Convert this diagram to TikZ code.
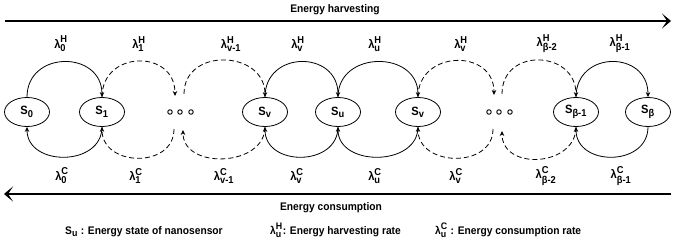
\documentclass[tikz,border=0pt]{standalone}
\usepackage{amsmath}
\usepackage{fontspec}
\setmainfont{Liberation Sans}[FakeStretch=0.93]
\usetikzlibrary{arrows.meta,shapes.geometric}
\DeclareMathSizes{11}{11}{9.5}{7}
\DeclareMathSizes{12}{12}{10}{8}
\newcommand\mylam[2]{$\text{λ}^{\text{#1}}_{\text{#2}}$}
\newcommand\mystate[1]{$\text{S}_{\text{#1}}$}
\begin{document}
\begin{tikzpicture}[x=1pt,y=-1pt,
  every node/.style={font=\fontsize{11}{13}\selectfont\bfseries},
  big12/.style={font=\fontsize{12}{14}\selectfont\bfseries},
  st/.style={ellipse,draw,line width=0.8pt,minimum width=45pt,minimum height=29pt,inner sep=0pt,big12},
  arc/.style={line width=0.8pt,-{Stealth[length=5pt,width=4.5pt]}},
  darc/.style={arc,dash pattern=on 5pt off 3pt},
  big/.style={line width=2.5pt,-{Stealth[length=9pt,width=15pt,inset=5pt]}},
  lab/.style={inner sep=0pt,big12},
  dot/.style={circle,draw,line width=0.9pt,minimum size=4.5pt,inner sep=0pt}]
\useasboundingbox (0,0) rectangle (675,248);
% big arrows
\coordinate (ha) at (5,21);
\coordinate (hb) at (671,21);
\coordinate (ca) at (671,194);
\coordinate (cb) at (4,194);
\draw[big] (ha) -- (hb);
\draw[big] (ca) -- (cb);
\node[anchor=base] (th) at (335,13) {Energy harvesting};
\node[anchor=base] (tc) at (331,211) {Energy consumption};
% states
\node[st] (s0) at (27,112) {\mystate{0}};
\node[st] (s1) at (102,112) {\mystate{1}};
\node[st] (sv) at (265,112) {\mystate{v}};
\node[st] (su) at (338,112) {\mystate{u}};
\node[st] (sw) at (418,112) {\mystate{v}};
\node[st] (sb1) at (576,112) {\mystate{β-1}};
\node[st] (sb) at (648,112) {\mystate{β}};
% dots
\node[dot] (da1) at (170,112) {};
\node[dot] (da2) at (180,112) {};
\node[dot] (da3) at (191,112) {};
\node[dot] (db1) at (489,112) {};
\node[dot] (db2) at (499,112) {};
\node[dot] (db3) at (510,112) {};
\coordinate (atl) at (175,96);
\coordinate (atr) at (184,94);
\coordinate (abl) at (174,129);
\coordinate (abr) at (183,130);
\coordinate (btl) at (494,95);
\coordinate (btr) at (502,94);
\coordinate (bbl) at (493,129);
\coordinate (bbr) at (502,131);
% top arcs
\draw[arc] (s0.north) .. controls +(0,-47) and +(0,-47) .. (s1.north);
\draw[darc] (s1.north) .. controls +(0,-47) and +(0,-47) .. (atl);
\draw[darc] (atr) .. controls +(0,-47) and +(0,-47) .. (sv.north);
\draw[arc] (sv.north) .. controls +(0,-47) and +(0,-47) .. (su.north);
\draw[arc] (su.north) .. controls +(0,-47) and +(0,-47) .. (sw.north);
\draw[darc] (sw.north) .. controls +(0,-47) and +(0,-47) .. (btl);
\draw[darc] (btr) .. controls +(0,-47) and +(0,-47) .. (sb1.north);
\draw[arc] (sb1.north) .. controls +(0,-47) and +(0,-47) .. (sb.north);
% bottom arcs
\draw[arc] (s1.south) .. controls +(0,40) and +(0,40) .. (s0.south);
\draw[darc] (abl) .. controls +(0,40) and +(0,40) .. (s1.south);
\draw[darc] (sv.south) .. controls +(0,40) and +(0,40) .. (abr);
\draw[arc] (su.south) .. controls +(0,40) and +(0,40) .. (sv.south);
\draw[arc] (sw.south) .. controls +(0,40) and +(0,40) .. (su.south);
\draw[darc] (bbl) .. controls +(0,40) and +(0,40) .. (sw.south);
\draw[darc] (sb1.south) .. controls +(0,40) and +(0,40) .. (bbr);
\draw[arc] (sb.south) .. controls +(0,40) and +(0,40) .. (sb1.south);
% top labels
\node[lab] (h0) at (61,44) {\mylam{H}{0}};
\node[lab] (h1) at (139,44) {\mylam{H}{1}};
\node[lab] (h2) at (231,44) {\mylam{H}{v-1}};
\node[lab] (h3) at (298,44) {\mylam{H}{v}};
\node[lab] (h4) at (375,44) {\mylam{H}{u}};
\node[lab] (h5) at (461,44) {\mylam{H}{v}};
\node[lab] (h6) at (547,44) {\mylam{H}{β-2}};
\node[lab] (h7) at (620,44) {\mylam{H}{β-1}};
% bottom labels
\node[lab] (c0) at (62,176) {\mylam{C}{0}};
\node[lab] (c1) at (136,176) {\mylam{C}{1}};
\node[lab] (c2) at (224,176) {\mylam{C}{v-1}};
\node[lab] (c3) at (297,176) {\mylam{C}{v}};
\node[lab] (c4) at (375,176) {\mylam{C}{u}};
\node[lab] (c5) at (456,176) {\mylam{C}{v}};
\node[lab] (c6) at (546,176) {\mylam{C}{β-2}};
\node[lab] (c7) at (621,176) {\mylam{C}{β-1}};
% legend
\node[anchor=base west,inner sep=0pt] (l1) at (65,235) {\mystate{u} : Energy state of nanosensor};
\node[anchor=base west,inner sep=0pt] (l2) at (270,235) {\mylam{H}{u}: Energy harvesting rate};
\node[anchor=base west,inner sep=0pt] (l3) at (435,235) {\mylam{C}{u} : Energy consumption rate};
\end{tikzpicture}
\end{document}
